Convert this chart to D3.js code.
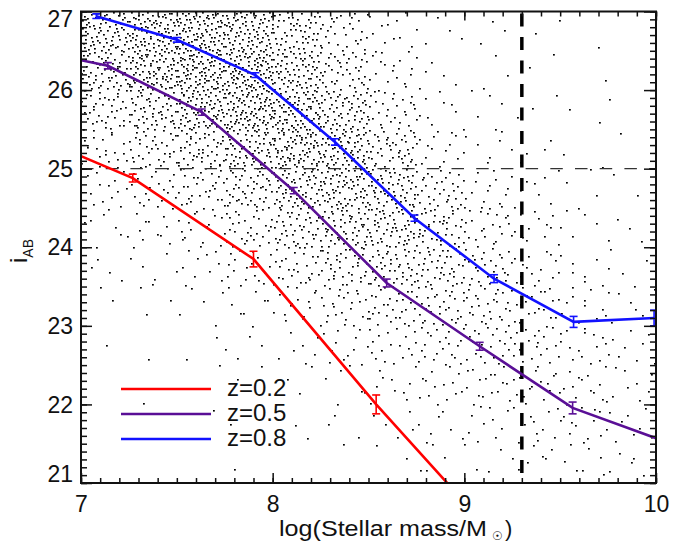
<!DOCTYPE html>
<html>
<head>
<meta charset="utf-8">
<script src="https://cdn.jsdelivr.net/npm/d3@7"></script>
<style>
body { margin: 0; background: #fff; }
text { font-family: "Liberation Sans", Arial, sans-serif; fill: #111; }
</style>
</head>
<body>
<script>
// z=0.2 / 0.5 / 0.8 completeness curves: mass, i_AB and error half-size (null = no bar)
var massZ02 = [7.0, 7.27, 7.90, 8.54, 9.17];
var iabZ02 = [25.16, 24.88, 23.85, 22.00, 20.30];
var errZ02 = [null, 0.05, 0.10, 0.12, null];

var massZ05 = [7.0, 7.14, 7.63, 8.11, 8.595, 9.08, 9.565, 10.0];
var iabZ05 = [26.38, 26.31, 25.72, 24.72, 23.545, 22.74, 21.955, 21.57];
var errZ05 = [null, 0.04, 0.04, 0.04, 0.05, 0.05, 0.075, null];

var massZ08 = [7.08, 7.50, 7.91, 8.325, 8.74, 9.155, 9.57, 9.99];
var iabZ08 = [26.94, 26.64, 26.19, 25.34, 24.37, 23.60, 23.05, 23.10];
var errZ08 = [0.03, 0.03, 0.03, 0.04, 0.04, 0.05, 0.07, 0.10];

var legendLabels = ["z=0.2", "z=0.5", "z=0.8"];
var curveColors = ["#ff0000", "#5a0f96", "#1212ff"];

var xTicks = [7, 8, 9, 10];
var yTicks = [21, 22, 23, 24, 25, 26, 27];
var massCut = 9.3;
var magCut = 25;

// galaxy scatter, as dot counts per cell
// columns: lower mass edge of 0.25-wide cells; rows: lower i_AB edge of 0.5-high cells
var cellMass = [7.0, 7.25, 7.5, 7.75, 8.0, 8.25, 8.5, 8.75, 9.0, 9.25, 9.5, 9.75];
var cellIab = [26.5, 26.0, 25.5, 25.0, 24.5, 24.0, 23.5, 23.0, 22.5, 22.0, 21.5, 21.0];
var dotCounts = [
  [72, 88, 95, 84, 55, 28, 12, 4, 3, 2, 1, 0],
  [62, 88, 102, 100, 72, 40, 18, 5, 3, 2, 1, 0],
  [38, 58, 84, 96, 88, 62, 28, 9, 5, 3, 2, 1],
  [22, 36, 52, 70, 84, 74, 46, 15, 7, 4, 2, 1],
  [13, 20, 30, 46, 64, 70, 58, 34, 15, 8, 4, 2],
  [8, 12, 18, 30, 46, 58, 58, 42, 22, 12, 6, 3],
  [4, 6, 10, 18, 28, 40, 46, 42, 28, 15, 8, 4],
  [2, 3, 5, 8, 15, 25, 30, 30, 28, 20, 12, 6],
  [1, 1, 2, 4, 7, 12, 18, 22, 22, 20, 15, 8],
  [0, 1, 1, 2, 3, 6, 10, 14, 16, 16, 14, 8],
  [0, 0, 1, 1, 2, 3, 5, 7, 10, 12, 12, 8],
  [0, 0, 0, 1, 1, 2, 3, 5, 6, 8, 8, 6]
];

var w = 686, h = 544;
var padL = 81, padR = 656, padT = 11.5, padB = 483;

var svg = d3.select("body").append("svg").attr("width", w).attr("height", h);

var x = d3.scaleLinear().domain([7, 10]).range([padL, padR]);
var y = d3.scaleLinear().domain([21, 27]).range([padB, padT]);

svg.append("clipPath").attr("id", "plot")
  .append("rect").attr("x", padL).attr("y", padT).attr("width", padR - padL).attr("height", padB - padT);

var plot = svg.append("g").attr("clip-path", "url(#plot)");

// spread each cell's dots with a halton sequence (deterministic)
function halton(i, b) {
  var f = 1, r = 0;
  while (i > 0) { f = f / b; r = r + f * (i % b); i = Math.floor(i / b); }
  return r;
}
var dots = [];
dotCounts.forEach(function (row, r) {
  row.forEach(function (n, c) {
    for (var j = 0; j < n; j++) {
      var k = j + 1 + (r * 12 + c) * 53;
      dots.push([cellMass[c] + halton(k, 2) * 0.25, cellIab[r] + halton(k, 3) * 0.5]);
    }
  });
});

plot.append("g").selectAll("rect").data(dots).enter().append("rect")
  .attr("x", function (d) { return Math.round(x(d[0])); })
  .attr("y", function (d) { return Math.round(y(d[1])); })
  .attr("width", 1.8).attr("height", 1.6)
  .attr("fill", "#000");

// cut lines
plot.append("line")
  .attr("x1", padL).attr("x2", padR).attr("y1", y(magCut)).attr("y2", y(magCut))
  .attr("stroke", "#333").attr("stroke-width", 1.2).attr("stroke-dasharray", "12.5,12.2");
plot.append("line")
  .attr("x1", x(massCut)).attr("x2", x(massCut)).attr("y1", padT + 2).attr("y2", padB)
  .attr("stroke", "#000").attr("stroke-width", 3.5).attr("stroke-dasharray", "13,10.5");

var curves = [
  {mass: massZ02, iab: iabZ02, err: errZ02},
  {mass: massZ05, iab: iabZ05, err: errZ05},
  {mass: massZ08, iab: iabZ08, err: errZ08}
];

var line = d3.line().x(function (d) { return x(d[0]); }).y(function (d) { return y(d[1]); });

curves.forEach(function (c, i) {
  var pts = c.mass.map(function (m, k) { return [m, c.iab[k], c.err[k]]; });
  var g = plot.append("g").attr("stroke", curveColors[i]).attr("fill", "none");
  g.append("path").attr("d", line(pts)).attr("stroke-width", 2.6);
  var bars = g.selectAll("g.bar").data(pts.filter(function (p) { return p[2] != null; }))
    .enter().append("g").attr("class", "bar").attr("stroke-width", 1.6);
  bars.append("line")
    .attr("x1", function (p) { return x(p[0]); }).attr("x2", function (p) { return x(p[0]); })
    .attr("y1", function (p) { return y(p[1] - p[2]); }).attr("y2", function (p) { return y(p[1] + p[2]); });
  [-1, 1].forEach(function (s) {
    bars.append("line")
      .attr("x1", function (p) { return x(p[0]) - 4; }).attr("x2", function (p) { return x(p[0]) + 4; })
      .attr("y1", function (p) { return y(p[1] + s * p[2]); }).attr("y2", function (p) { return y(p[1] + s * p[2]); });
  });
});

// axes, IDL style: inward ticks on all four sides
var minorX = d3.range(70, 101).map(function (v) { return v / 10; });
var minorY = d3.range(210, 271).map(function (v) { return v / 10; });

function noDomain(g) { g.select(".domain").remove(); }

svg.append("g").attr("transform", "translate(0," + padB + ")")
  .call(d3.axisBottom(x).tickValues(minorX).tickSize(-5).tickFormat("")).call(noDomain);
var xAxis = svg.append("g").attr("transform", "translate(0," + padB + ")")
  .call(d3.axisBottom(x).tickValues(xTicks).tickSize(-10).tickPadding(13).tickFormat(d3.format("d"))).call(noDomain);
svg.append("g").attr("transform", "translate(0," + padT + ")")
  .call(d3.axisTop(x).tickValues(minorX).tickSize(-5).tickFormat("")).call(noDomain);
svg.append("g").attr("transform", "translate(0," + padT + ")")
  .call(d3.axisTop(x).tickValues(xTicks).tickSize(-9).tickFormat("")).call(noDomain);

svg.append("g").attr("transform", "translate(" + padL + ",0)")
  .call(d3.axisLeft(y).tickValues(minorY).tickSize(-6).tickFormat("")).call(noDomain);
var yAxis = svg.append("g").attr("transform", "translate(" + padL + ",0)")
  .call(d3.axisLeft(y).tickValues(yTicks).tickSize(-11).tickPadding(8).tickFormat(d3.format("d"))).call(noDomain);
svg.append("g").attr("transform", "translate(" + padR + ",0)")
  .call(d3.axisRight(y).tickValues(minorY).tickSize(-6).tickFormat("")).call(noDomain);
svg.append("g").attr("transform", "translate(" + padR + ",0)")
  .call(d3.axisRight(y).tickValues(yTicks).tickSize(-12).tickFormat("")).call(noDomain);

svg.selectAll(".tick line").attr("stroke", "#111").attr("stroke-width", 1.5);
svg.selectAll(".tick text").attr("font-size", 23).attr("font-family", "Liberation Sans, Arial, sans-serif").attr("fill", "#111");
yAxis.selectAll(".tick text").attr("dy", function (d) {
  if (d === 27) return "0.63em";
  if (d === 21) return "-0.05em";
  return "0.33em";
});

svg.append("rect")
  .attr("x", padL).attr("y", padT).attr("width", padR - padL).attr("height", padB - padT)
  .attr("fill", "none").attr("stroke", "#111").attr("stroke-width", 2);

// axis titles
svg.append("text").attr("x", 279).attr("y", 536).attr("font-size", 22)
  .attr("textLength", 208).attr("lengthAdjust", "spacingAndGlyphs").text("log(Stellar mass/M");
svg.append("text").attr("x", 492).attr("y", 540).attr("font-size", 12).text("\u2609");
svg.append("text").attr("x", 505).attr("y", 536).attr("font-size", 22).text(")");

var yt = svg.append("text").attr("transform", "translate(27,263) rotate(-90)").attr("font-size", 24);
yt.append("tspan").text("i");
yt.append("tspan").attr("font-size", 14).attr("dy", 6).text("AB");

// legend
var legend = svg.append("g").selectAll("g").data(legendLabels).enter().append("g")
  .attr("transform", function (d, i) { return "translate(0," + (389 + i * 25) + ")"; });
legend.append("line").attr("x1", 121).attr("x2", 211)
  .attr("stroke", function (d, i) { return curveColors[i]; }).attr("stroke-width", 2.6);
legend.append("text").attr("x", 227).attr("y", 6.5).attr("font-size", 24).text(function (d) { return d; });
</script>
</body>
</html>
